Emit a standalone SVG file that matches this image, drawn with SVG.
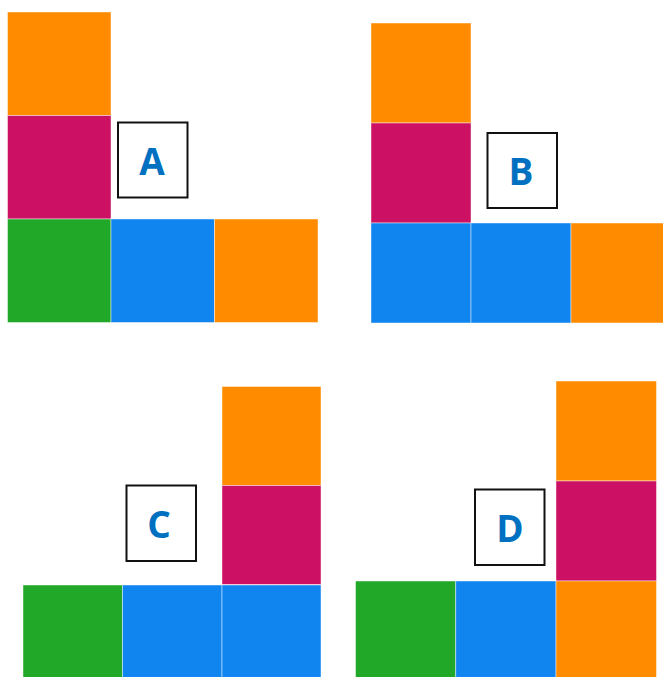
<svg xmlns="http://www.w3.org/2000/svg" width="663" height="677" viewBox="0 0 663 677">
<style>
.sq{stroke:#ffffff;stroke-opacity:0.45;stroke-width:1}
.o{fill:#FF8C00}.m{fill:#CC1063}.g{fill:#22A829}.b{fill:#1185EF}
.box{fill:#ffffff;stroke:#111111;stroke-width:2}
.lbl{font-family:"Open Sans","DejaVu Sans",sans-serif;font-weight:bold;font-size:37px;fill:#0070C0;text-anchor:middle}
</style>
<rect width="663" height="677" fill="#ffffff"/>
<g id="figA">
<rect class="sq o" x="7.5" y="12" width="103.5" height="103.5"/>
<rect class="sq m" x="7.5" y="115.5" width="103.5" height="103.5"/>
<rect class="sq g" x="7.5" y="219" width="103.5" height="103.5"/>
<rect class="sq b" x="111" y="219" width="103.5" height="103.5"/>
<rect class="sq o" x="214.5" y="219" width="103.5" height="103.5"/>
<rect class="box" x="118" y="122.5" width="69.5" height="75"/>
<text class="lbl" x="152" y="175">A</text>
</g>
<g id="figB">
<rect class="sq o" x="371" y="23" width="100" height="100"/>
<rect class="sq m" x="371" y="123" width="100" height="100"/>
<rect class="sq b" x="371" y="223" width="100" height="100"/>
<rect class="sq b" x="471" y="223" width="100" height="100"/>
<rect class="sq o" x="571" y="223" width="100" height="100"/>
<rect class="box" x="487.5" y="133" width="69.5" height="75"/>
<text class="lbl" x="521" y="185">B</text>
</g>
<g id="figC">
<rect class="sq o" x="222" y="386.5" width="99" height="99"/>
<rect class="sq m" x="222" y="485.5" width="99" height="99"/>
<rect class="sq g" x="23" y="585" width="99.5" height="99"/>
<rect class="sq b" x="122.5" y="585" width="99.5" height="99"/>
<rect class="sq b" x="222" y="585" width="99" height="99"/>
<rect class="box" x="126.5" y="485.5" width="69.5" height="75.5"/>
<text class="lbl" x="159" y="538">C</text>
</g>
<g id="figD">
<rect class="sq o" x="556" y="381" width="100.5" height="100"/>
<rect class="sq m" x="556" y="481" width="100.5" height="100"/>
<rect class="sq g" x="355.5" y="581" width="100.2" height="100"/>
<rect class="sq b" x="455.7" y="581" width="100.3" height="100"/>
<rect class="sq o" x="556" y="581" width="100.5" height="100"/>
<rect class="box" x="475" y="489.5" width="69.5" height="75.5"/>
<text class="lbl" x="510" y="542">D</text>
</g>
<g id="connectors"></g>
</svg>
